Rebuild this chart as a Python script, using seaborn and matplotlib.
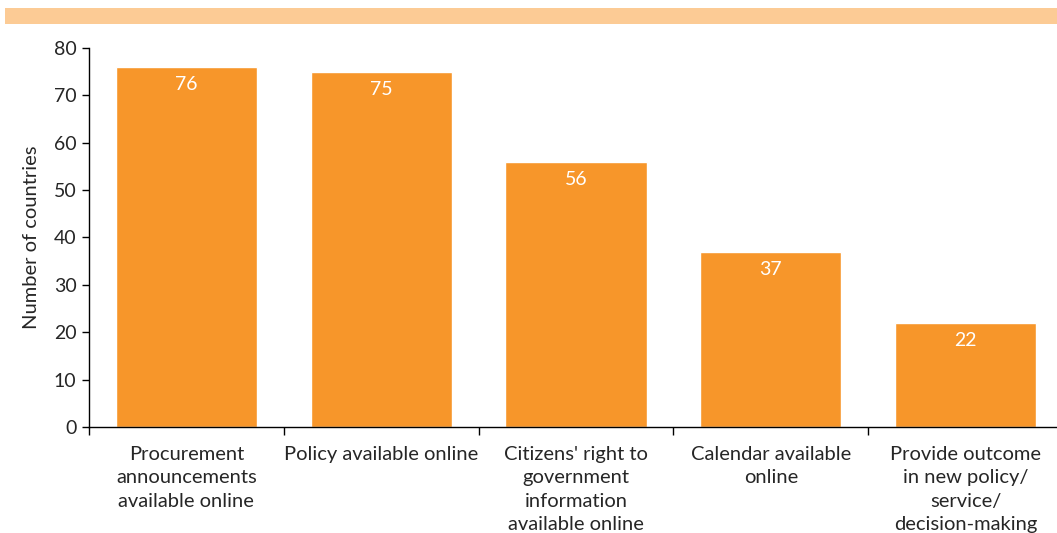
import matplotlib
matplotlib.use("Agg")
import matplotlib.pyplot as plt
from matplotlib.patches import Rectangle
from matplotlib.ticker import FixedLocator
import numpy as np
import pandas as pd
import seaborn as sns

# data
categories = [
    "Procurement\nannouncements\navailable online",
    "Policy available online",
    "Citizens' right to\ngovernment\ninformation\navailable online",
    "Calendar available\nonline",
    "Provide outcome\nin new policy/\nservice/\ndecision-making",
]
counts = [76, 75, 56, 37, 22]
y_ticks = [0, 10, 20, 30, 40, 50, 60, 70, 80]

bar_color = "#F7962A"
band_color = "#FCCB95"

sns.set_theme(style="white")
plt.rcParams['font.family'] = ['Lato', 'DejaVu Sans']

df = pd.DataFrame({"category": categories, "count": counts})

fig = plt.figure(figsize=(10.57, 5.33), dpi=100)
ax = fig.add_axes([0.0842, 0.199, 0.9215, 0.711])

sns.barplot(data=df, x="category", y="count", color=bar_color, saturation=1,
            width=0.725, ax=ax)

# value labels inside bar tops
for i, v in enumerate(counts):
    ax.annotate(f"{v}", xy=(i, v), xytext=(0, -12.5), textcoords="offset points",
                ha="center", va="center", color="white", fontsize=14)

ax.set_xlim(-0.5, 4.5)
ax.set_ylim(0, 80)
ax.set_yticks(y_ticks)
ax.set_xlabel("")
ax.set_ylabel("Number of countries", fontsize=14.5, labelpad=10)

ax.tick_params(axis="x", which="major", length=0, labelsize=14.5, pad=13.5)
ax.xaxis.set_minor_locator(FixedLocator(np.arange(-0.5, 4.6, 1.0)))
ax.tick_params(axis="x", which="minor", bottom=True, length=6, width=1, color="black",
               direction="out")
ax.tick_params(axis="y", left=True, length=5, width=1, color="black", direction="out",
               labelsize=14, pad=4)
for lbl in ax.get_xticklabels():
    lbl.set_multialignment("center")
    lbl.set_verticalalignment("top")
    lbl.set_linespacing(1.47)

sns.despine(ax=ax, top=True, right=True)
for side in ["left", "bottom"]:
    ax.spines[side].set_color("black")
    ax.spines[side].set_linewidth(1)

# orange band at the top of the panel
fig.patches.append(Rectangle((5 / 1057, 509 / 533), 1.0, 16 / 533,
                             transform=fig.transFigure, facecolor=band_color,
                             edgecolor="none", zorder=0))

fig.savefig("out.png", dpi=100)
